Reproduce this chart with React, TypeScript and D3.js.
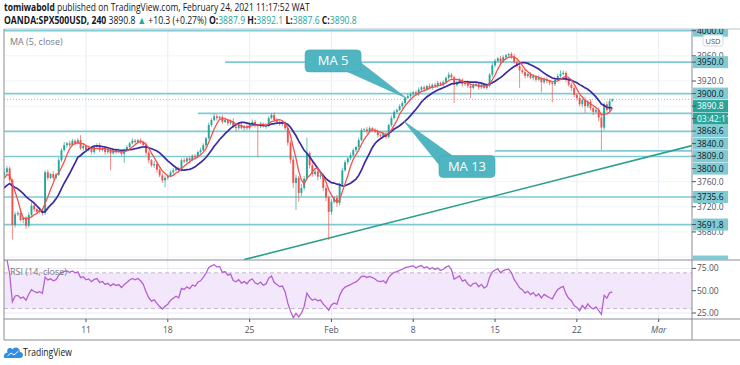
import React, { useLayoutEffect, useRef, useState } from 'react';
import * as d3 from 'd3';

// closes before the visible window (needed for MA / RSI warm-up)
const warmup = [3712, 3720, 3716, 3724, 3731, 3727, 3736, 3742, 3739, 3748, 3753, 3749, 3756, 3761, 3766, 3770];

// 4h closes, Jan 4 -> Feb 24 2021 (open = previous close)
const closes = [
  3775, 3781, 3763, 3691, 3708, 3710, 3699, 3702, 3690, 3707,
  3722, 3716, 3712, 3715, 3710, 3775, 3766, 3772, 3766, 3771,
  3794, 3810, 3818, 3821, 3818, 3825, 3821, 3826, 3813, 3817,
  3810, 3813, 3807, 3815, 3818, 3810, 3813, 3807, 3810, 3805,
  3810, 3807, 3809, 3804, 3810, 3815, 3821, 3825, 3823, 3826,
  3823, 3818, 3806, 3794, 3786, 3788, 3779, 3770, 3762, 3766,
  3769, 3775, 3778, 3781, 3778, 3794, 3792, 3797, 3794, 3801,
  3799, 3807, 3810, 3818, 3829, 3850, 3858, 3864, 3861, 3863,
  3855, 3858, 3853, 3856, 3847, 3845, 3850, 3845, 3848, 3845,
  3852, 3855, 3850, 3848, 3852, 3848, 3850, 3861, 3866, 3858,
  3855, 3852, 3853, 3845, 3822, 3795, 3758, 3766, 3742, 3750,
  3765, 3805, 3786, 3772, 3776, 3768, 3770, 3750, 3735, 3712,
  3728, 3734, 3726, 3755, 3778, 3791, 3797, 3802, 3810, 3815,
  3826, 3842, 3843, 3840, 3845, 3842, 3839, 3834, 3833, 3836,
  3831, 3850, 3861, 3871, 3874, 3880, 3885, 3893, 3896, 3899,
  3902, 3899, 3906, 3910, 3907, 3912, 3909, 3914, 3912, 3917,
  3914, 3918, 3925, 3930, 3926, 3914, 3918, 3922, 3915, 3918,
  3912, 3909, 3914, 3915, 3910, 3914, 3909, 3912, 3930, 3945,
  3952, 3956, 3951, 3958, 3961, 3963, 3959, 3950, 3944, 3937,
  3934, 3928, 3931, 3925, 3928, 3922, 3925, 3918, 3923, 3920,
  3917, 3915, 3922, 3928, 3931, 3933, 3922, 3914, 3909, 3898,
  3893, 3883, 3890, 3880, 3887, 3877, 3871, 3874, 3862, 3846,
  3883, 3874, 3887.9, 3890.8
];

// wick length above / below the body, in points
const upWick = [
  6, 4, 3, 2, 4, 3, 5, 2, 3, 4,
  5, 3, 2, 4, 3, 3, 4, 2, 5, 3,
  4, 3, 5, 2, 4, 3, 2, 3, 8, 3,
  2, 4, 3, 2, 3, 4, 2, 3, 2, 3,
  3, 2, 4, 2, 3, 3, 2, 4, 3, 2,
  3, 2, 4, 3, 2, 5, 3, 2, 3, 4,
  2, 3, 4, 2, 3, 3, 4, 2, 3, 2,
  3, 2, 4, 3, 2, 4, 3, 5, 3, 2,
  3, 4, 2, 3, 5, 2, 3, 4, 2, 3,
  2, 4, 3, 2, 3, 2, 3, 3, 3, 4,
  3, 2, 4, 3, 2, 3, 4, 5, 3, 6,
  4, 25, 3, 6, 4, 3, 5, 3, 4, 3,
  4, 3, 5, 3, 4, 3, 2, 4, 3, 2,
  4, 3, 2, 4, 3, 2, 3, 4, 2, 3,
  3, 2, 4, 3, 2, 3, 3, 2, 4, 3,
  2, 3, 4, 2, 3, 2, 4, 2, 3, 3,
  2, 3, 2, 4, 3, 2, 3, 3, 2, 3,
  3, 2, 4, 2, 3, 3, 2, 3, 3, 4,
  3, 2, 4, 3, 2, 2, 3, 4, 3, 2,
  3, 4, 2, 3, 3, 2, 4, 2, 3, 3,
  2, 3, 3, 4, 6, 4, 3, 2, 4, 3,
  3, 4, 2, 5, 3, 4, 3, 5, 4, 3,
  3, 5, 4, 1.3
];
const downWick = [
  4, 5, 3, 23, 4, 3, 2, 5, 5, 3,
  3, 4, 2, 3, 4, 3, 4, 2, 3, 3,
  2, 3, 2, 4, 3, 2, 3, 2, 3, 4,
  3, 2, 4, 3, 2, 3, 2, 4, 3, 27,
  2, 3, 2, 3, 14, 2, 3, 2, 3, 2,
  3, 2, 4, 5, 3, 4, 5, 3, 4, 11,
  3, 2, 3, 2, 4, 2, 3, 2, 3, 2,
  3, 2, 3, 2, 4, 2, 3, 2, 4, 3,
  3, 2, 4, 3, 2, 5, 3, 2, 4, 3,
  3, 2, 4, 49, 3, 2, 4, 3, 2, 3,
  2, 3, 4, 3, 5, 6, 8, 43, 14, 5,
  4, 3, 5, 4, 3, 6, 4, 5, 6, 45,
  5, 3, 6, 4, 3, 2, 4, 3, 2, 3,
  3, 2, 3, 4, 2, 3, 2, 4, 3, 2,
  3, 2, 3, 2, 3, 2, 4, 3, 2, 3,
  3, 2, 3, 2, 4, 3, 2, 3, 2, 3,
  2, 3, 2, 3, 4, 29, 3, 2, 4, 3,
  3, 16, 2, 3, 4, 3, 2, 3, 2, 3,
  3, 2, 3, 2, 3, 2, 4, 3, 3, 28,
  3, 4, 3, 2, 4, 3, 2, 16, 3, 4,
  4, 29, 3, 2, 3, 2, 4, 3, 5, 4,
  4, 3, 5, 11, 3, 4, 5, 3, 6, 36,
  4, 3, 3, 0.3
];

const tickBars = [30, 60, 90, 120, 150, 180, 210, 240];
const tickLabels = ['11', '18', '25', 'Feb', '8', '15', '22', 'Mar'];
const priceTicks = [3640, 3680, 3720, 3760, 3800, 3840, 3880, 3920, 3960, 4000];
const rsiTicks = [25, 50, 75];

// horizontal levels drawn on the chart, and the bar each starts from
const levelPrices = [4000, 3950, 3900, 3868.6, 3840, 3809, 3800, 3735.6, 3691.8, 3633];
const levelFromBar = [0, 81, 0, 71, 0, 180, 0, 0, 0, 0];

const countdown = '03:42:11';

// trend line anchors (bar, price)
const trendBars = [88, 252];
const trendPrices = [3636, 3817];

// callouts: label, box centre (bar, price), tip (bar, price)
const calloutText = ['MA 5', 'MA 13'];
const calloutBoxBar = [120.6, 169.7];
const calloutBoxPrice = [3952, 3784];
const calloutTipBar = [147.4, 146.6];
const calloutTipPrice = [3893, 3856];

const UP = '#26a69a';
const DOWN = '#ef5350';
const LEVEL = '#80cad4';
const FONT = "'Open Sans', 'Noto Sans', sans-serif";

const sma = (vals: number[], n: number) =>
  vals.map((_, k) => (k < n - 1 ? NaN : d3.mean(vals.slice(k - n + 1, k + 1)) as number));

function rsi(vals: number[], n: number) {
  const out = vals.map(() => NaN);
  let g = 0, l = 0;
  for (let k = 1; k <= n; k++) {
    const d = vals[k] - vals[k - 1];
    if (d > 0) g += d; else l -= d;
  }
  g /= n; l /= n;
  out[n] = l === 0 ? 100 : 100 - 100 / (1 + g / l);
  for (let k = n + 1; k < vals.length; k++) {
    const d = vals[k] - vals[k - 1];
    g = (g * (n - 1) + Math.max(d, 0)) / n;
    l = (l * (n - 1) + Math.max(-d, 0)) / n;
    out[k] = l === 0 ? 100 : 100 - 100 / (1 + g / l);
  }
  return out;
}

// text squeezed horizontally to a given width (the snapshot is condensed)
function FitText({ x, y, width, size, children }: { x: number; y: number; width: number; size: number; children: React.ReactNode }) {
  const ref = useRef<SVGTextElement>(null);
  const [k, setK] = useState(1);
  useLayoutEffect(() => {
    if (ref.current) {
      const nat = ref.current.getComputedTextLength();
      if (nat > 0) setK(width / nat);
    }
  }, [width]);
  return (
    <text ref={ref} transform={`translate(${x},${y}) scale(${k},1)`} fontSize={size} fill="#131722">
      {children}
    </text>
  );
}

export default function App() {
  const PL = 4, PR = 692, MT = 29, MB = 260, RB = 319, AB = 340;

  const x = d3.scaleLinear().domain([0, 240]).range([4.2, 4.2 + 240 * 2.727]);
  const y = d3.scaleLinear().domain([3635.4, 4002.7]).range([MB, MT]);
  const ry = d3.scaleLinear().domain([18.3, 84.4]).range([RB, MB]);

  const all = warmup.concat(closes);
  const off = warmup.length;
  const ma5 = sma(all, 5);
  const ma13 = sma(all, 13);
  const rs = rsi(all, 14);

  const pts = (arr: number[]) =>
    arr.map((v, k) => [k - off, v] as [number, number]).filter(p => p[0] >= -3 && !isNaN(p[1]));

  const line = d3.line<[number, number]>().x(d => x(d[0])).y(d => y(d[1]));
  const rline = d3.line<[number, number]>().x(d => x(d[0])).y(d => ry(d[1]));

  const candles = closes.map((c, i) => {
    const o = i === 0 ? warmup[warmup.length - 1] : closes[i - 1];
    const hi = Math.max(o, c) + upWick[i];
    const lo = Math.min(o, c) - downWick[i];
    return { i, o, c, hi, lo, up: c >= o };
  });

  const last = closes[closes.length - 1];

  // right axis labels with simple stacking
  type Lab = { y: number; text: string; bg: string; fg: string };
  const labs: Lab[] = levelPrices.map(p => ({ y: y(p), text: p.toFixed(1), bg: LEVEL, fg: '#131722' }));
  labs.push({ y: y(last), text: last.toFixed(1), bg: UP, fg: '#ffffff' });
  labs.push({ y: y(last) + 0.01, text: countdown, bg: UP, fg: '#ffffff' });
  labs.sort((a, b) => a.y - b.y);
  for (let j = 1; j < labs.length; j++) {
    if (labs[j].y < labs[j - 1].y + 12.5) labs[j].y = labs[j - 1].y + 12.5;
  }
  const visibleTicks = priceTicks.filter(p => !labs.some(l => Math.abs(l.y - y(p)) < 6));

  const tSlope = (trendPrices[1] - trendPrices[0]) / (trendBars[1] - trendBars[0]);
  const trendEnd = x.invert(PR);

  return (
    <svg width={740} height={365} style={{ position: 'absolute', left: 0, top: 0, background: '#fff' }}
      fontFamily={FONT}>
      <defs>
        <clipPath id="main"><rect x={PL} y={MT} width={PR - PL} height={MB - MT} /></clipPath>
        <clipPath id="rsi"><rect x={PL} y={MB} width={PR - PL} height={RB - MB} /></clipPath>
        <clipPath id="paxis"><rect x={PR} y={MT} width={740 - PR} height={MB - MT} /></clipPath>
      </defs>

      {/* header */}
      <FitText x={4} y={11} width={306} size={10.5}>
        <tspan fontWeight={700}>tomiwabold</tspan> published on TradingView.com, February 24, 2021 11:17:52 WAT
      </FitText>
      <FitText x={4} y={24} width={353} size={10.5}>
        <tspan fontWeight={700}>OANDA:SPX500USD, 240</tspan> 3890.8 <tspan fill={UP}>▲</tspan> +10.3 (+0.27%){' '}
        <tspan fontWeight={700}>O:</tspan><tspan fill={UP}>3887.9</tspan>{' '}
        <tspan fontWeight={700}>H:</tspan><tspan fill={UP}>3892.1</tspan>{' '}
        <tspan fontWeight={700}>L:</tspan><tspan fill={UP}>3887.6</tspan>{' '}
        <tspan fontWeight={700}>C:</tspan><tspan fill={UP}>3890.8</tspan>
      </FitText>

      {/* grid */}
      {tickBars.map(b => (
        <line key={'vg' + b} x1={x(b)} x2={x(b)} y1={MT} y2={RB} stroke="#e6edf3" strokeWidth={1} />
      ))}
      {priceTicks.map(p => (
        <line key={'hg' + p} x1={PL} x2={PR} y1={y(p)} y2={y(p)} stroke="#f0f3f7" strokeWidth={1} clipPath="url(#main)" />
      ))}

      {/* main pane */}
      <g clipPath="url(#main)">
        {levelPrices.map((p, j) => (
          <line key={'lv' + p} x1={x(levelFromBar[j])} x2={PR} y1={y(p)} y2={y(p)}
            stroke={LEVEL} strokeWidth={1.7} />
        ))}
        <line x1={PL} x2={PR} y1={y(last)} y2={y(last)} stroke="#8fcfc7" strokeWidth={1} strokeDasharray="1,2" />
        <line x1={x(trendBars[0])} y1={y(trendPrices[0])} x2={x(trendEnd)}
          y2={y(trendPrices[0] + tSlope * (trendEnd - trendBars[0]))} stroke="#2c9f8b" strokeWidth={1.6} />
        {candles.map(d => (
          <g key={d.i}>
            <line x1={x(d.i)} x2={x(d.i)} y1={y(d.hi)} y2={y(d.lo)} stroke={d.up ? UP : DOWN}
              strokeWidth={0.9} opacity={0.75} />
            <rect x={x(d.i) - 0.95} width={1.9} y={y(Math.max(d.o, d.c))}
              height={Math.max(0.8, y(Math.min(d.o, d.c)) - y(Math.max(d.o, d.c)))} fill={d.up ? UP : DOWN} />
          </g>
        ))}
        <path d={line(pts(ma13)) || ''} fill="none" stroke="#3b2aa2" strokeWidth={1.7} />
        <path d={line(pts(ma5)) || ''} fill="none" stroke="#f2524c" strokeWidth={1.3} />
      </g>

      {/* callouts */}
      {calloutText.map((t, j) => {
        const cx = x(calloutBoxBar[j]), cy = y(calloutBoxPrice[j]);
        const tx = x(calloutTipBar[j]), ty = y(calloutTipPrice[j]);
        const w = 56, h = 22;
        const sx = tx > cx ? 1 : -1, sy = ty > cy ? 1 : -1;
        const kx = cx + sx * w / 2, ky = cy + sy * h / 2;
        const wedge = `M${kx - sx * 13},${ky} L${tx},${ty} L${kx},${ky - sy * 9} Z`;
        return (
          <g key={t}>
            <path d={wedge} fill="#4fb5c1" stroke="#45aab6" strokeWidth={0.6} />
            <rect x={cx - w / 2} y={cy - h / 2} width={w} height={h} rx={4} fill="#4fb5c1" stroke="#45aab6" strokeWidth={0.6} />
            <text x={cx} y={cy + 4.5} textAnchor="middle" fontSize={13} fill="#fff">{t}</text>
          </g>
        );
      })}

      <text x={10} y={45} fontSize={9} fill="#787b86">MA (5, close)</text>

      {/* rsi pane */}
      <rect x={PL} y={ry(70)} width={PR - PL} height={ry(30) - ry(70)} fill="#f3e7fb" />
      {rsiTicks.map(t => (
        <line key={'rg' + t} x1={PL} x2={PR} y1={ry(t)} y2={ry(t)} stroke="#ece8f3" strokeWidth={1} />
      ))}
      <line x1={PL} x2={PR} y1={ry(70)} y2={ry(70)} stroke="#c3b6cf" strokeDasharray="4,3" />
      <line x1={PL} x2={PR} y1={ry(30)} y2={ry(30)} stroke="#c3b6cf" strokeDasharray="4,3" />
      <path d={rline(pts(rs)) || ''} fill="none" stroke="#b660d0" strokeWidth={1.3} clipPath="url(#rsi)" />
      <text x={10} y={275} fontSize={9} fill="#787b86">RSI (14, close)</text>

      {/* borders */}
      <line x1={PL} x2={740} y1={MT} y2={MT} stroke="#b7c6cc" />
      <line x1={PL} x2={740} y1={MB} y2={MB} stroke="#8a8d96" />
      <line x1={PL} x2={740} y1={RB} y2={RB} stroke="#8a8d96" />
      <line x1={PL} x2={740} y1={AB} y2={AB} stroke="#8a8d96" />
      <line x1={PL} x2={PL} y1={MT} y2={AB} stroke="#8a8d96" />
      <line x1={PR} x2={PR} y1={MT} y2={AB} stroke="#8a8d96" />

      {/* price axis */}
      <g clipPath="url(#paxis)">
        {visibleTicks.map(p => (
          <g key={'pt' + p}>
            <line x1={PR} x2={PR + 4} y1={y(p)} y2={y(p)} stroke="#50535e" />
            <text x={697} y={y(p) + 3} fontSize={8.5} fill="#50535e">{p.toFixed(1)}</text>
          </g>
        ))}
        {labs.map((l, j) => (
          <g key={'lb' + j}>
            <rect x={PR + 1} y={l.y - 6} width={35} height={12} fill={l.bg} />
            <line x1={PR} x2={PR + 4} y1={l.y} y2={l.y} stroke="#50535e" />
            {l.y < MB && <text x={697} y={l.y + 3} fontSize={8.5} fill={l.fg}>{l.text}</text>}
          </g>
        ))}
      </g>
      <rect x={703} y={35} width={20} height={11} rx={2} fill="#fff" stroke="#d6d9e0" />
      <text x={713} y={43.5} fontSize={7.5} textAnchor="middle" fill="#50535e">USD</text>

      {rsiTicks.map(t => (
        <g key={'rt' + t}>
          <line x1={PR} x2={PR + 4} y1={ry(t)} y2={ry(t)} stroke="#50535e" />
          <text x={697} y={ry(t) + 3} fontSize={8.5} fill="#50535e">{t.toFixed(2)}</text>
        </g>
      ))}

      {/* time axis */}
      {tickBars.map((b, j) => (
        <g key={'tt' + b}>
          <line x1={x(b)} x2={x(b)} y1={RB} y2={RB + 3} stroke="#50535e" />
          <text x={x(b)} y={333} fontSize={8.5} textAnchor="middle" fill="#50535e"
            fontStyle={tickLabels[j] === 'Mar' ? 'italic' : 'normal'}>{tickLabels[j]}</text>
        </g>
      ))}

      {/* logo */}
      <path d="M5,358 L20,358 C24,358 24,352 20,352 C20,347 14,346 12.5,349.5 C10.5,346.5 6,348.5 7.5,352.5 C3.5,353 3,358 5,358 Z"
        fill="#2f8ee3" />
      <path d="M7.5,356 L11,353 L14,355 L18.5,351" fill="none" stroke="#fff" strokeWidth={1} />
      <FitText x={23} y={356} width={49} size={10}>TradingView</FitText>
    </svg>
  );
}
